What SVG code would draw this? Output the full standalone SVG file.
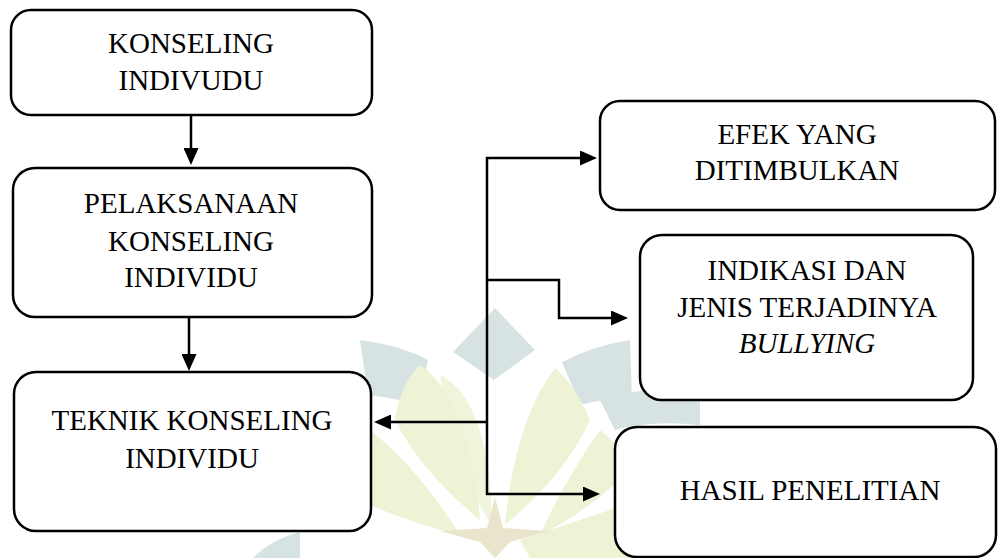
<svg xmlns="http://www.w3.org/2000/svg" width="998" height="558" viewBox="0 0 998 558">
<style>
.box{fill:#fff;stroke:#000;stroke-width:2.5}
.t{font-family:"Liberation Serif","Times New Roman",serif;font-size:29px;fill:#000;text-anchor:middle}
.c{fill:none;stroke:#000;stroke-width:2.5}
.wb{fill:#d7e3e3}
.wy{fill:#eef3d6}
</style>
<defs>
<marker id="ah" markerUnits="userSpaceOnUse" markerWidth="17" markerHeight="15" refX="9" refY="7.5" orient="auto">
<path d="M0,0 L17,7.5 L0,15 z" fill="#000"/>
</marker>
</defs>
<rect width="998" height="558" fill="#fff"/>
<g id="watermark">
<path class="wb" d="M495,308 L535,350 L494,380 L453,352 Z"/>
<path class="wb" d="M360,340 Q400,345 428,360 L418,405 Q395,398 368,395 Z"/>
<path class="wb" d="M562,362 Q595,345 630,340 L632,400 Q605,398 580,405 Z"/>
<path class="wb" d="M600,400 Q640,385 700,392 L700,425 Q650,420 615,430 Z"/>
<path class="wb" d="M253,558 Q270,540 300,532 L300,558 Z"/>
<path class="wy" d="M420,365 Q470,400 480,520 Q420,470 395,420 Q400,385 420,365 Z"/>
<path class="wy" d="M440,375 Q490,400 492,525 Q455,470 440,375 Z" opacity="0.9"/>
<path class="wy" d="M555,368 Q575,385 590,420 Q565,475 505,525 Q515,420 555,368 Z"/>
<path class="wy" d="M600,430 Q620,445 630,470 Q590,510 540,535 Q565,480 600,430 Z"/>
<path class="wy" d="M370,430 Q420,470 460,535 Q400,520 360,500 Z"/>
<path class="wy" d="M520,540 Q580,520 640,500 L640,558 L530,558 Z"/>
<path d="M495,497 L503,528 L550,531 L510,542 L495,558 L480,542 L440,531 L487,528 Z" fill="#e9e5cd"/>
</g>
<g id="connectors">
<path class="c" d="M191,115 V157" marker-end="url(#ah)"/>
<path class="c" d="M189,317 V363" marker-end="url(#ah)"/>
<path class="c" d="M487,157 V495"/>
<path class="c" d="M486,158 H589" marker-end="url(#ah)"/>
<path class="c" d="M487,280 H559 V318 H620" marker-end="url(#ah)"/>
<path class="c" d="M487,422 H382" stroke-width="3.5" marker-end="url(#ah)"/>
<path class="c" d="M486,494 H592" marker-end="url(#ah)"/>
</g>
<g id="n1">
<rect class="box" x="11" y="10" width="361" height="105" rx="20"/>
<text class="t" x="191" y="53">KONSELING</text>
<text class="t" x="191" y="90">INDIVUDU</text>
</g>
<g id="n2">
<rect class="box" x="13" y="168" width="359" height="149" rx="22"/>
<text class="t" x="191" y="213">PELAKSANAAN</text>
<text class="t" x="191" y="251">KONSELING</text>
<text class="t" x="191" y="287">INDIVIDU</text>
</g>
<g id="n3">
<rect class="box" x="14" y="372" width="357" height="159" rx="22"/>
<text class="t" x="192" y="430">TEKNIK KONSELING</text>
<text class="t" x="192" y="468">INDIVIDU</text>
</g>
<g id="n4">
<rect class="box" x="600" y="101" width="395" height="109" rx="20"/>
<text class="t" x="797" y="144">EFEK YANG</text>
<text class="t" x="797" y="180">DITIMBULKAN</text>
</g>
<g id="n5">
<rect class="box" x="640" y="235" width="333" height="165" rx="22"/>
<text class="t" x="807" y="280">INDIKASI DAN</text>
<text class="t" x="807" y="317">JENIS TERJADINYA</text>
<text class="t" x="807" y="353" font-style="italic">BULLYING</text>
</g>
<g id="n6">
<rect class="box" x="615" y="427" width="381" height="130" rx="22"/>
<text class="t" x="810" y="500">HASIL PENELITIAN</text>
</g>
</svg>
